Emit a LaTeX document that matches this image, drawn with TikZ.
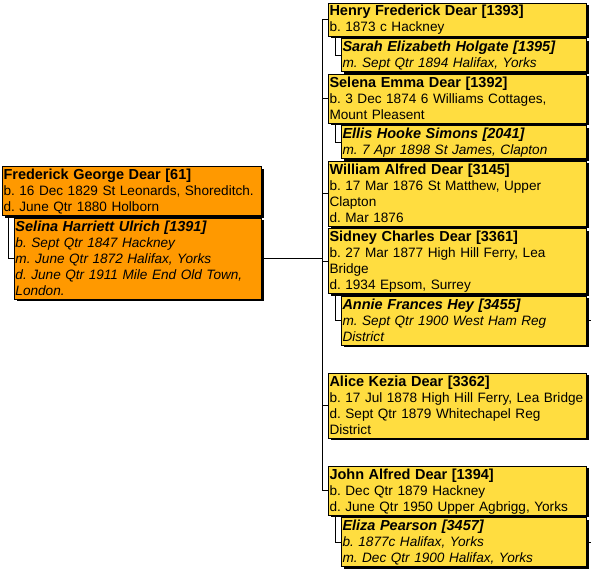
\documentclass[tikz,border=0pt]{standalone}
\usepackage{fontspec}
\setmainfont{Liberation Sans}
\usetikzlibrary{positioning,shadows}

\definecolor{rootorange}{RGB}{255,153,0}
\definecolor{kinyellow}{RGB}{255,221,64}

\frenchspacing
\hyphenpenalty=10000
\newcommand{\pname}[1]{{\fontsize{14.5}{16}\selectfont\bfseries #1}}
\newcommand{\rowstrut}{\rule[-3.5pt]{0pt}{16pt}}

\begin{document}
\begin{tikzpicture}[
        x=1pt, y=1pt,
        node distance = 1.5pt,
        card/.style   = {rectangle, draw=black, line width=1pt,
                         inner xsep=1pt, inner ysep=0.5pt, align=left,
                         font=\fontsize{13.6}{16}\selectfont,
                         drop shadow={shadow xshift=2pt, shadow yshift=-2pt,
                                      fill=black, opacity=1},
                         execute at begin node=\rowstrut,
                         execute at end node=\rowstrut},
        kin/.style    = {card, fill=kinyellow, text width=256pt},
        kinsp/.style  = {card, fill=kinyellow, text width=243pt,
                         font=\fontsize{13.6}{16}\selectfont\itshape},
        root/.style   = {card, fill=rootorange, text width=257pt},
        rootsp/.style = {card, fill=rootorange, text width=245pt,
                         font=\fontsize{13.6}{16}\selectfont\itshape},
        link/.style   = {draw=black, line width=0.8pt}
    ]
    \useasboundingbox (0,0) rectangle (591,-570);

    % root couple
    \node[root, anchor=north west] (fred) at (2,-166)
        {\pname{Frederick George Dear [61]}\\b. 16 Dec 1829 St Leonards, Shoreditch.\\d. June Qtr 1880 Holborn};
    \node[rootsp, below=of fred.south east, anchor=north east] (fredsp)
        {\pname{Selina Harriett Ulrich [1391]}\\b. Sept Qtr 1847 Hackney\\m. June Qtr 1872 Halifax, Yorks\\d. June Qtr 1911 Mile End Old Town,\\London.};

    % children and their spouses
    \node[kin, anchor=north west] (henry) at (328,-2.5)
        {\pname{Henry Frederick Dear [1393]}\\b. 1873 c Hackney};
    \node[kinsp, below=of henry.south east, anchor=north east] (sarah)
        {\pname{Sarah Elizabeth Holgate [1395]}\\m. Sept Qtr 1894 Halifax, Yorks};
    \node[kin, below=of sarah.south east, anchor=north east] (selena)
        {\pname{Selena Emma Dear [1392]}\\b. 3 Dec 1874 6 Williams Cottages,\\Mount Pleasent};
    \node[kinsp, below=of selena.south east, anchor=north east] (ellis)
        {\pname{Ellis Hooke Simons [2041]}\\m. 7 Apr 1898 St James, Clapton};
    \node[kin, below=of ellis.south east, anchor=north east] (william)
        {\pname{William Alfred Dear [3145]}\\b. 17 Mar 1876 St Matthew, Upper\\Clapton\\d. Mar 1876};
    \node[kin, below=of william.south east, anchor=north east] (sidney)
        {\pname{Sidney Charles Dear [3361]}\\b. 27 Mar 1877 High Hill Ferry, Lea\\Bridge\\d. 1934 Epsom, Surrey};
    \node[kinsp, below=of sidney.south east, anchor=north east] (annie)
        {\pname{Annie Frances Hey [3455]}\\m. Sept Qtr 1900 West Ham Reg\\District};
    \node[kin, below=27pt of annie.south east, anchor=north east] (alice)
        {\pname{Alice Kezia Dear [3362]}\\b. 17 Jul 1878 High Hill Ferry, Lea Bridge\\d. Sept Qtr 1879 Whitechapel Reg\\District};
    \node[kin, below=27pt of alice.south east, anchor=north east] (john)
        {\pname{John Alfred Dear [1394]}\\b. Dec Qtr 1879 Hackney\\d. June Qtr 1950 Upper Agbrigg, Yorks};
    \node[kinsp, below=of john.south east, anchor=north east] (eliza)
        {\pname{Eliza Pearson [3457]}\\b. 1877c Halifax, Yorks\\m. Dec Qtr 1900 Halifax, Yorks};

    % connectors
    \draw[link] ([xshift=6pt]fred.south west) |- (fredsp.west);
    \draw[link] (henry.west) -- ++(-6,0) coordinate (bus) |- (john.west);
    \foreach \kid in {selena,william,sidney,alice}
        \draw[link] (\kid.west) -- (\kid.west -| bus);
    \draw[link] (fredsp.east) -- (fredsp.east -| bus);
    \foreach \kid/\sp in {henry/sarah,selena/ellis,sidney/annie,john/eliza}
        \draw[link] ([xshift=7pt]\kid.south west) |- (\sp.west);
    \foreach \sp in {annie,eliza}
        \draw[link] (\sp.east) -- ++(5,0);
\end{tikzpicture}
\end{document}
